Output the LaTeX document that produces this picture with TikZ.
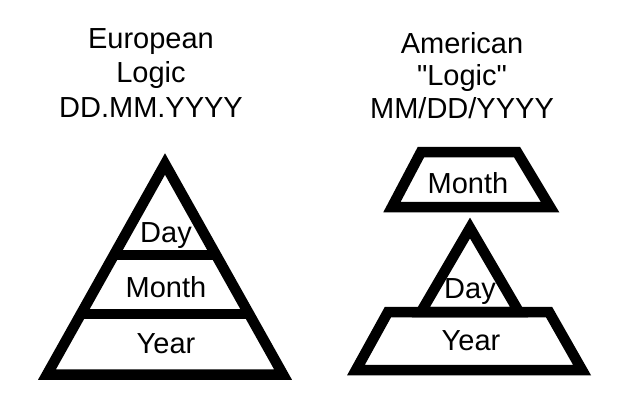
\documentclass[tikz,border=0pt]{standalone}
\usepackage{fontspec}
\setmainfont{Liberation Sans}
\usetikzlibrary{calc}

\begin{document}
\begin{tikzpicture}[x=1pt,y=-1pt, word/.style={font=\fontsize{29}{34.5}\selectfont, anchor=base, inner sep=0pt},
                    heading/.style={word, align=center}, block/.style={draw, line width=10.5pt, line join=miter}]

  \useasboundingbox (0,0) rectangle (625,415);

  % european pyramid
  \coordinate (eu top) at (165,164);
  \coordinate (eu left) at (47,374.5);
  \coordinate (eu right) at (283,374.5);
  \draw[block] (eu top) -- (eu left) -- (eu right) -- cycle;
  \draw[block] ($(eu top)!0.432!(eu left)$) -- ($(eu top)!0.432!(eu right)$);
  \draw[block] ($(eu top)!0.713!(eu left)$) -- ($(eu top)!0.713!(eu right)$);

  \node[heading] (eu title) at (151,117) {European\\Logic\\DD.MM.YYYY};
  \node[word] (eu day) at (166,242) {Day};
  \node[word] (eu month) at (166,297) {Month};
  \node[word] (eu year) at (166,353) {Year};

  % american pyramid
  \draw[block] (421,152) -- (517,152) -- (550,207) -- (392,207) -- cycle;
  \draw[block] (421,312) -- (470,228) -- (519,312) -- cycle;
  \draw[block] (388,312) -- (549,312) -- (582,370) -- (356,370) -- cycle;

  \node[heading, font=\fontsize{29}{32.5}\selectfont] (us title) at (462,118)
    {American\\\textquotedbl Logic\textquotedbl\\MM/DD/YYYY};
  \node[word] (us month) at (468,193) {Month};
  \node[word] (us day) at (470,298) {Day};
  \node[word] (us year) at (471,350) {Year};

\end{tikzpicture}
\end{document}
